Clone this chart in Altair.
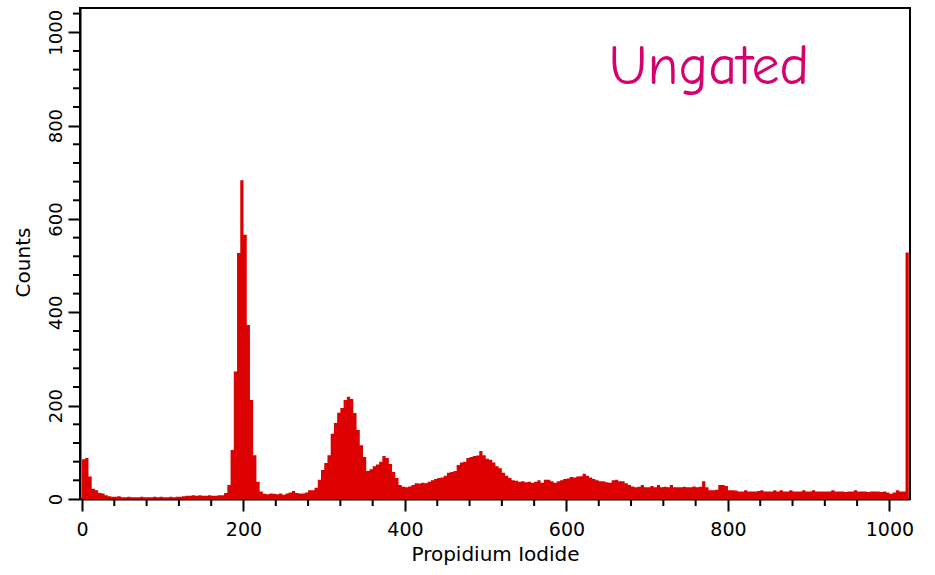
import altair as alt
import pandas as pd

# DNA-content histogram: 256 bins of 4 channels each (channels 0-1023)
BIN = 4

# channels 0-28: debris spike at the origin
origin_counts = [85, 88, 48, 22, 19, 13, 12, 8]
# channels 32-172: low background
background_counts = [6, 5, 5, 6, 4, 4, 5, 4, 4, 4,
                     5, 4, 4, 4, 5, 4, 5, 4, 4, 5,
                     4, 5, 5, 6, 7, 7, 8, 7, 8, 7,
                     7, 8, 7, 7, 8, 8]
# channels 176-220: sharp peak near 200
peak1_counts = [13, 30, 105, 273, 527, 683, 566, 373, 212, 94, 37, 16]
# channels 224-276: valley
valley_counts = [11, 10, 12, 11, 10, 12, 9, 12, 14, 17, 13, 12, 12, 14]
# channels 280-376: second peak and its shoulder
peak2_counts = [19, 19, 24, 41, 62, 77, 94, 140, 163, 185,
                195, 212, 219, 214, 184, 148, 115, 90, 60, 64,
                70, 74, 80, 92, 88]
# channels 380-560: third peak near 490
peak3_counts = [75, 58, 45, 30, 26, 25, 27, 30, 34, 33,
                35, 34, 37, 40, 43, 45, 46, 50, 56, 58,
                60, 73, 78, 80, 88, 90, 92, 93, 103, 94,
                86, 84, 78, 70, 66, 56, 50, 45, 40, 39,
                37, 38, 36, 37, 35, 37]
# channels 564-812: broad hump near 620 and decline
hump_counts = [40, 35, 41, 41, 38, 35, 38, 40, 43, 44,
               47, 46, 48, 49, 54, 50, 46, 43, 40, 38,
               38, 36, 35, 40, 41, 38, 38, 34, 30, 27,
               25, 26, 30, 25, 25, 28, 25, 30, 25, 26,
               25, 30, 25, 25, 25, 26, 25, 25, 27, 25,
               26, 38, 25, 19, 19, 20, 30, 30, 28, 19,
               19, 18, 16]
# channels 816-1016: tail
tail_counts = [16, 19, 16, 16, 16, 17, 19, 16, 16, 16,
               19, 16, 19, 16, 16, 19, 16, 16, 16, 19,
               16, 16, 19, 16, 16, 16, 16, 16, 19, 16,
               16, 16, 15, 16, 16, 19, 16, 16, 16, 15,
               16, 16, 16, 15, 16, 14, 11, 14, 19, 16,
               16]
# channel 1020: off-scale pile-up
overflow_counts = [528]

counts = (origin_counts + background_counts + peak1_counts + valley_counts
          + peak2_counts + peak3_counts + hump_counts + tail_counts
          + overflow_counts)
starts = [i * BIN for i in range(len(counts))]

hist = pd.DataFrame({
    "channel": starts + [starts[-1] + BIN],
    "count": counts + [counts[-1]],
})

x_major = list(range(0, 1001, 200))
x_minor = [v for v in range(0, 1024, 40) if v % 200]
y_major = list(range(0, 1001, 200))
y_minor = [v for v in range(0, 1041, 40) if v % 200]

W, H = 830, 491
RED = "#dc0000"
FONT = "DejaVu Sans"

x_scale = alt.Scale(domain=[-2.5, 1025.5], nice=False, zero=False)
y_scale = alt.Scale(domain=[0, 1052], nice=False)

x_axis = alt.Axis(
    values=x_major, format="d", tickSize=12, tickWidth=2, tickColor="black",
    domainColor="black", domainWidth=2, grid=False,
    labelFont=FONT, labelFontSize=19, labelColor="black",
    labelPadding=9, labelFlush=False, labelOverlap=False,
    title="Propidium Iodide", titleFont=FONT, titleFontSize=20,
    titleFontWeight="normal", titleColor="black",
    titleX=415, titleY=61, titleAlign="center",
    titleBaseline="alphabetic",
)
y_axis = alt.Axis(
    values=y_major, format="d", tickSize=12, tickWidth=2, tickColor="black",
    domainColor="black", domainWidth=2, grid=False,
    labelFont=FONT, labelFontSize=18, labelColor="black",
    labelAngle=270, labelAlign="center", labelBaseline="bottom",
    labelPadding=3, labelFlush=False, labelOverlap=False,
    title="Counts", titleFont=FONT, titleFontSize=20,
    titleFontWeight="normal", titleColor="black",
    titleAngle=270, titleX=-57, titleY=254, titleAlign="center",
    titleBaseline="middle",
)

bars = alt.Chart(hist).mark_area(
    interpolate="step-after", color=RED, opacity=1
).encode(
    x=alt.X("channel:Q", scale=x_scale, axis=x_axis),
    y=alt.Y("count:Q", scale=y_scale, axis=y_axis),
)

# minor ticks every 40 channels / counts, shorter than the labelled ones
x_minor_ticks = alt.Chart(pd.DataFrame({"channel": x_minor})).mark_rule(
    color="black", strokeWidth=2
).encode(
    x=alt.X("channel:Q", scale=x_scale, axis=x_axis),
    y=alt.value(H),
    y2=alt.value(H + 7),
)

y_minor_ticks = alt.Chart(pd.DataFrame({"count": y_minor})).mark_rule(
    color="black", strokeWidth=2
).encode(
    y=alt.Y("count:Q", scale=y_scale, axis=y_axis),
    x=alt.value(0),
    x2=alt.value(-7),
)

label = alt.Chart(pd.DataFrame({"t": ["Ungated"]})).mark_text(
    font="Comic Sans MS, Comic Neue, DejaVu Sans", fontSize=56,
    color="#d6006e", align="center", baseline="alphabetic",
).encode(
    text="t:N",
    x=alt.value(629),
    y=alt.value(76),
)

chart = alt.layer(bars, x_minor_ticks, y_minor_ticks, label).properties(
    width=W,
    height=H,
    autosize=alt.AutoSizeParams(type="none"),
    padding={"left": 80, "top": 8, "right": 25, "bottom": 76},
    background="white",
).configure_view(
    stroke="black", strokeWidth=2
)

chart.save("out.html", embed_options={"renderer": "svg", "actions": False})
